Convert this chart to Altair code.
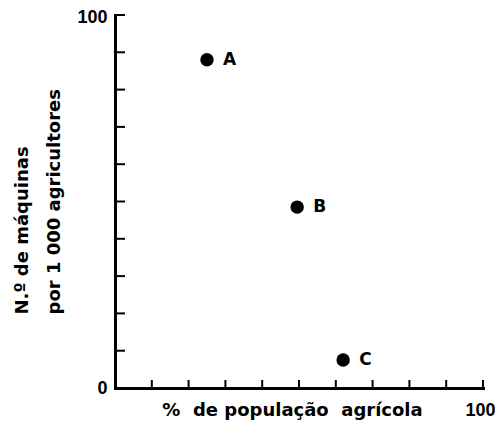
import altair as alt
import pandas as pd

# Data
names = ["A", "B", "C"]
pop_agricola = [25, 49.5, 62]      # % de população agrícola
maquinas = [88, 48.5, 7.5]         # N.º de máquinas por 1 000 agricultores
tick_values = [0, 10, 20, 30, 40, 50, 60, 70, 80, 90, 100]
x_label_values = [100]
y_label_values = [0, 100]

W, H = 368, 373
FONT = "DejaVu Sans"
LABEL_FONT = "Liberation Sans"

df = pd.DataFrame({"nome": names, "pop": pop_agricola, "maq": maquinas})
ticks = pd.DataFrame({"v": tick_values})

xscale = alt.Scale(domain=[0, 100], nice=False, zero=False)
yscale = alt.Scale(domain=[0, 100], nice=False, zero=False)

common_axis = dict(
    domainColor="black", domainWidth=3, domainCap="square",
    ticks=False, tickSize=0, grid=False,
    labelFont=LABEL_FONT, labelFontWeight="bold", labelFontSize=18, labelColor="black",
    titleFont=FONT, titleFontWeight="bold", titleFontSize=18, titleColor="black",
    labelFlush=False, labelOverlap=False,
)

x_axis = alt.Axis(
    values=x_label_values, title="%\u00a0\u00a0de população\u00a0\u00a0agrícola",
    labelBaseline="alphabetic", labelPadding=27, labelOffset=-3,
    titleX=177, titleY=27, titleBaseline="alphabetic", titleAlign="center",
    titleAnchor="middle",
    **common_axis,
)
y_axis = alt.Axis(
    values=y_label_values, title=["N.º de máquinas", "por 1 000 agricultores"],
    labelBaseline="middle", labelPadding=8,
    labelOffset=alt.condition("datum.value == 100", alt.value(2), alt.value(0)),
    titleAngle=270, titleAlign="left", titleBaseline="alphabetic",
    titleX=-88, titleY=299, titleLineHeight=32,
    **common_axis,
)

base = alt.Chart(df)
points = base.mark_circle(size=180, color="black", opacity=1).encode(
    x=alt.X("pop:Q", scale=xscale, axis=x_axis),
    y=alt.Y("maq:Q", scale=yscale, axis=y_axis),
)
labels = base.mark_text(
    align="left", dx=16, baseline="middle", font=FONT, fontWeight="bold",
    fontSize=17, color="black",
).encode(
    x=alt.X("pop:Q", scale=xscale),
    y=alt.Y("maq:Q", scale=yscale),
    text="nome:N",
)
yticks = alt.Chart(ticks).mark_rule(color="black", strokeWidth=2).encode(
    y=alt.Y("v:Q", scale=yscale),
    x=alt.value(0), x2=alt.value(10),
)
xticks = alt.Chart(ticks).mark_rule(color="black", strokeWidth=2).encode(
    x=alt.X("v:Q", scale=xscale),
    y=alt.value(H), y2=alt.value(H - 8),
)

chart = alt.layer(xticks, yticks, points, labels).properties(
    width=W, height=H,
    autosize=alt.AutoSizeParams(type="none"),
    padding={"left": 107, "top": 7, "right": 12, "bottom": 34},
    background="white",
).configure_view(stroke=None)

chart.save("out.html", embed_options={"renderer": "svg", "actions": False})
